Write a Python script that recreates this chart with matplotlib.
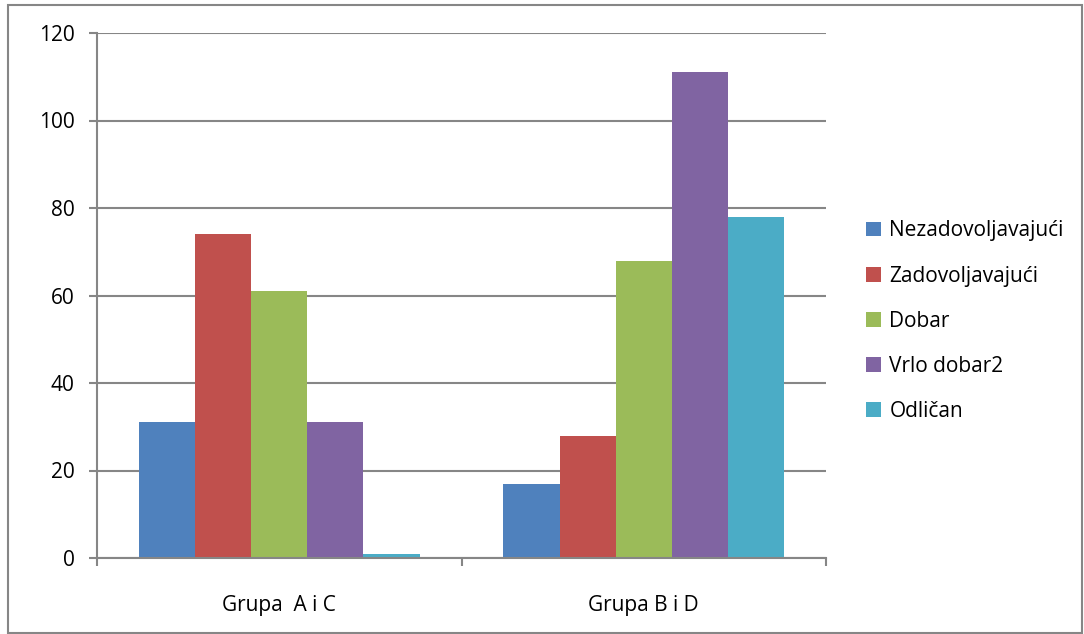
import numpy as np
import matplotlib
matplotlib.use("Agg")
import matplotlib.pyplot as plt
from matplotlib.patches import Rectangle

groups = ["Grupa  A i C", "Grupa B i D"]
series = ["Nezadovoljavajući", "Zadovoljavajući", "Dobar", "Vrlo dobar2", "Odličan"]
nezadovoljavajuci = [31, 17]
zadovoljavajuci = [74, 28]
dobar = [61, 68]
vrlo_dobar2 = [31, 111]
odlican = [1, 78]
values = [nezadovoljavajuci, zadovoljavajuci, dobar, vrlo_dobar2, odlican]
colors = ["#4F81BD", "#C0504D", "#9BBB59", "#8064A2", "#4BACC6"]

plt.rcParams["font.family"] = ["Open Sans", "DejaVu Sans"]
grid_c = "#868686"

fig = plt.figure(figsize=(10.84, 6.34), dpi=100)
fig.patches.append(Rectangle((8 / 1084, 0.002), 1 - 8 / 1084 - 0.002, 1 - 5 / 634 - 0.002,
                             transform=fig.transFigure, fill=False, ec=grid_c, lw=1.5))
ax = fig.add_axes([97 / 1084, 1 - 558 / 634, (826 - 97) / 1084, (558 - 33) / 634])

x = np.arange(len(groups))
w = 0.77 / len(series)
for i, (name, vals) in enumerate(zip(series, values)):
    ax.bar(x - 0.385 + w * (i + 0.5), vals, w, color=colors[i], label=name, zorder=2)

ax.set_xlim(-0.5, 1.5)
ax.set_ylim(0, 120)
ax.set_yticks(range(0, 121, 20))
ax.yaxis.grid(True, color=grid_c, lw=1.5, zorder=0)
ax.set_axisbelow(True)
ax.set_xticks(x)
ax.set_xticklabels(groups, fontsize=15)
ax.set_xticks([-0.5, 0.5, 1.5], minor=True)
ax.tick_params(axis="x", which="major", length=0, pad=27)
ax.tick_params(axis="x", which="minor", length=6, width=1.5, color=grid_c, direction="out")
ax.tick_params(axis="y", length=6, width=1.5, color=grid_c, labelsize=15, pad=10)
for s in ["top", "right"]:
    ax.spines[s].set_visible(False)
for s in ["left", "bottom"]:
    ax.spines[s].set_color(grid_c)
    ax.spines[s].set_linewidth(1.5)

ax.legend(loc="center left", bbox_to_anchor=(1.044, 0.451), frameon=False, fontsize=15,
          handlelength=0.7, handleheight=0.7, handletextpad=0.4, labelspacing=1.16,
          borderaxespad=0)

fig.savefig("out.png", dpi=100)
